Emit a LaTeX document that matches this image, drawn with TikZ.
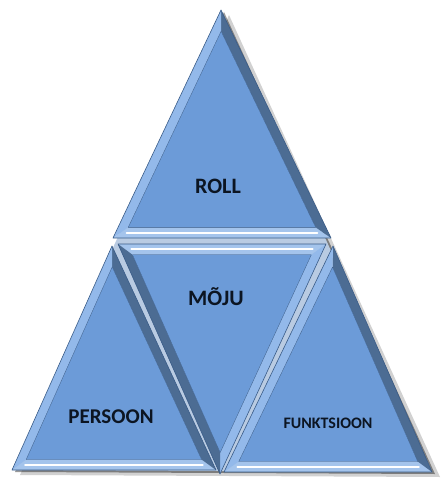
\documentclass[tikz,border=0pt]{standalone}
\usepackage{fontspec}
\setmainfont{Carlito}
\usetikzlibrary{calc}

\definecolor{facecol}{HTML}{6C9BD8}
\definecolor{lightcol}{HTML}{93B9EA}
\definecolor{darkcol}{HTML}{4C6C93}
\definecolor{flatcol}{HTML}{A4C4EC}
\definecolor{rimcol}{HTML}{3A5C88}
\definecolor{gapcol}{HTML}{B9CBE2}
\definecolor{inkcol}{HTML}{0C1522}

\tikzset{
  face/.style={fill=facecol},
  litband/.style={fill=lightcol},
  dimband/.style={fill=darkcol},
  flatband/.style={fill=flatcol},
  streak/.style={draw=white, line width=1.8pt, line cap=round},
  rim/.style={draw=rimcol, line width=0.6pt, line join=round},
  shade/.style={fill=black, opacity=0.18},
  label/.style={font=\bfseries, text=inkcol, inner sep=0pt}
}

% bevelled triangle: corners #1 #2 #3 (edge #1-#2 is the flat one),
% band styles #4 (#1-#2), #5 (#2-#3), #6 (#3-#1)
\newcommand\facet[6]{
  \coordinate (g) at ($0.3333*(#1)+0.3333*(#2)+0.3334*(#3)$);
  \coordinate (#1i) at ($(#1)!0.14!(g)$);
  \coordinate (#2i) at ($(#2)!0.14!(g)$);
  \coordinate (#3i) at ($(#3)!0.14!(g)$);
  \path[#4] (#1) -- (#2) -- (#2i) -- (#1i) -- cycle;
  \path[#5] (#2) -- (#3) -- (#3i) -- (#2i) -- cycle;
  \path[#6] (#3) -- (#1) -- (#1i) -- (#3i) -- cycle;
  \path[face] (#1i) -- (#2i) -- (#3i) -- cycle;
  \draw[streak, shorten <=6pt, shorten >=6pt] ($(#1)!0.5!(#1i)$) -- ($(#2)!0.5!(#2i)$);
  \draw[rim] (#1) -- (#2) -- (#3) -- cycle;
  \draw[rim, line width=0.3pt] (#1i) -- (#2i) -- (#3i) -- cycle;
}

\begin{document}
\begin{tikzpicture}[x=1pt, y=-1pt]
\useasboundingbox (0,0) rectangle (444,484);

% --- corners ---
\coordinate (T1) at (113,238);
\coordinate (T2) at (331,238);
\coordinate (T3) at (221,10);
\coordinate (M1) at (118,244);
\coordinate (M2) at (326,244);
\coordinate (M3) at (220,474);
\coordinate (L1) at (12,470);
\coordinate (L2) at (216,470);
\coordinate (L3) at (112,246);
\coordinate (R1) at (224,472);
\coordinate (R2) at (432,472);
\coordinate (R3) at (333,246);

% --- shadow ---
\fill[shade] ([shift={(8,5)}]T3) -- ([shift={(8,5)}]R2) -- ([shift={(8,5)}]L1) -- cycle;
\fill[shade, opacity=0.4] ([shift={(3,2)}]T3) -- ([shift={(3,2)}]R2) -- ([shift={(3,2)}]L1) -- cycle;
\fill[gapcol] (T3) -- (R2) -- (L1) -- cycle;

% --- four facets ---
\facet{T1}{T2}{T3}{flatband}{dimband}{litband}
\facet{L1}{L2}{L3}{flatband}{dimband}{litband}
\facet{R1}{R2}{R3}{flatband}{dimband}{litband}
\facet{M1}{M2}{M3}{flatband}{litband}{dimband}

% --- labels ---
\node[label, font=\bfseries\fontsize{22}{24}\selectfont] (roll) at (218,186) {ROLL};
\node[label, font=\bfseries\fontsize{22}{24}\selectfont] (moju) at (216,297) {MÕJU};
\node[label, font=\bfseries\fontsize{21}{24}\selectfont] (persoon) at (111,417) {PERSOON};
\node[label, font=\bfseries\fontsize{16}{18}\selectfont] (funktsioon) at (328,423) {FUNKTSIOON};
\end{tikzpicture}
\end{document}
